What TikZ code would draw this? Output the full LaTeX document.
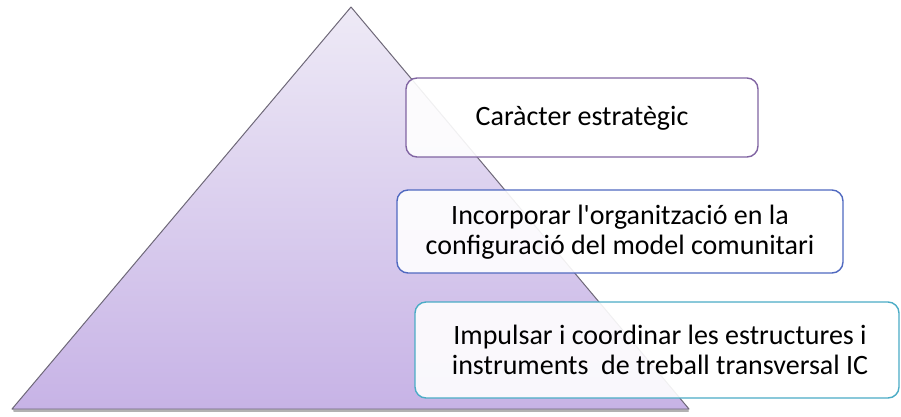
\documentclass[tikz,border=0pt]{standalone}
\usepackage{fontspec}
\setmainfont{Carlito}
\usetikzlibrary{shadings}
\definecolor{triTop}{HTML}{EEEAF6}
\definecolor{triBot}{HTML}{C7B3E6}
\definecolor{triEdge}{HTML}{6E6878}
\definecolor{bPurple}{HTML}{8064A2}
\definecolor{bBlue}{HTML}{5069C0}
\definecolor{bCyan}{HTML}{4BACC6}
\tikzset{
  listbox/.style={rounded corners=11pt, line width=1.4pt, fill=white, fill opacity=0.9, text opacity=1},
  boxtext/.style={font=\fontsize{28}{30}\selectfont, align=center, text=black}
}
\begin{document}
\begin{tikzpicture}[x=1pt,y=-1pt]
\useasboundingbox (0,0) rectangle (901,416);
% pyramid
\coordinate (apex) at (351,7);
\coordinate (bl) at (12,409);
\coordinate (br) at (689,409);
\draw[gray!60, line width=2pt, line cap=round] (14,411) -- (688,411);
\shade[top color=triTop, bottom color=triBot] (apex) -- (br) -- (bl) -- cycle;
\draw[triEdge, line width=1pt, line join=round] (apex) -- (br) -- (bl) -- cycle;
% boxes
\draw[listbox, draw=bPurple] (406,78) rectangle (758,157);
\draw[listbox, draw=bBlue] (397,190) rectangle (843,273);
\draw[listbox, draw=bCyan] (415,302) rectangle (899,398);
\node[boxtext] (t1) at (582,118) {Caràcter estratègic};
\node[boxtext] (t2) at (620,232) {Incorporar l\textquotesingle organització en la\\configuració del model comunitari};
\node[boxtext] (t3) at (660,350) {Impulsar i coordinar les estructures i\\instruments\ \ de treball transversal IC};
\end{tikzpicture}
\end{document}
